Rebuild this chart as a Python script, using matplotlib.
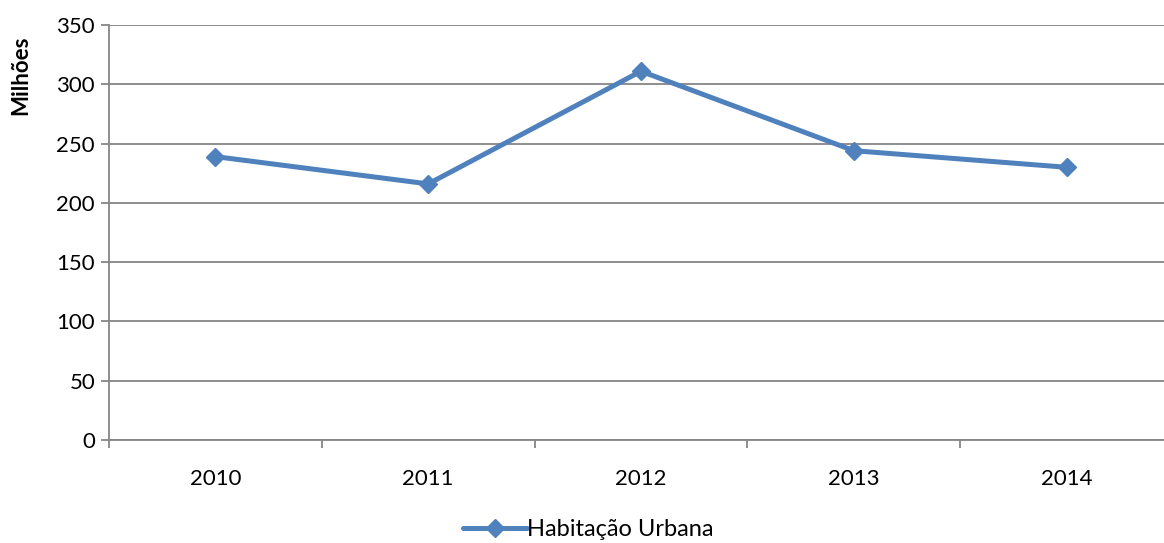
import matplotlib
matplotlib.use("Agg")
import matplotlib.pyplot as plt
from matplotlib.ticker import FixedLocator

years = ["2010", "2011", "2012", "2013", "2014"]
values = [239, 216, 311, 244, 230]
yticks = [0, 50, 100, 150, 200, 250, 300, 350]
series_name = "Habitação Urbana"
ylabel = "Milhões"

plt.rcParams['font.family'] = ['Lato', 'DejaVu Sans']

fig = plt.figure(figsize=(11.64, 5.43), dpi=100)
ax = fig.add_axes([109/1164, 1-440/543, 1064/1164, 415/543])

color = "#4F81BD"
grid = "#868686"
x = list(range(len(years)))
ax.plot(x, values, color=color, lw=3.6, marker="D", markersize=9,
        markerfacecolor=color, markeredgecolor=color, label=series_name,
        solid_capstyle="round", zorder=3)

ax.set_xlim(-0.5, len(years) - 0.5)
ax.set_ylim(0, 350)
ax.set_yticks(yticks)
ax.set_yticklabels([str(v) for v in yticks], fontsize=16)
ax.yaxis.grid(True, color=grid, lw=1.3)
ax.set_axisbelow(True)

ax.set_xticks(x)
ax.set_xticklabels(years, fontsize=16)
ax.tick_params(axis='x', which='major', length=0, pad=21)
ax.xaxis.set_minor_locator(FixedLocator([i - 0.5 for i in range(len(years) + 1)]))
ax.tick_params(axis='x', which='minor', length=6, color=grid, width=1.3)
ax.tick_params(axis='y', length=6, color=grid, width=1.3, pad=4)

for s in ["top", "right"]:
    ax.spines[s].set_visible(False)
ax.spines["left"].set_color(grid)
ax.spines["left"].set_linewidth(1.3)
ax.spines["bottom"].set_color(grid)
ax.spines["bottom"].set_linewidth(1.3)

ax.set_ylabel(ylabel, fontsize=16, fontweight="bold", va="center", ha="center")
ax.yaxis.set_label_coords(-0.083, 0.88)

fig.legend(loc="center", bbox_to_anchor=(588/1164, 1-530/543), frameon=False,
           fontsize=17, handlelength=2.7, handletextpad=0.0)

fig.savefig("out.png", dpi=100)
